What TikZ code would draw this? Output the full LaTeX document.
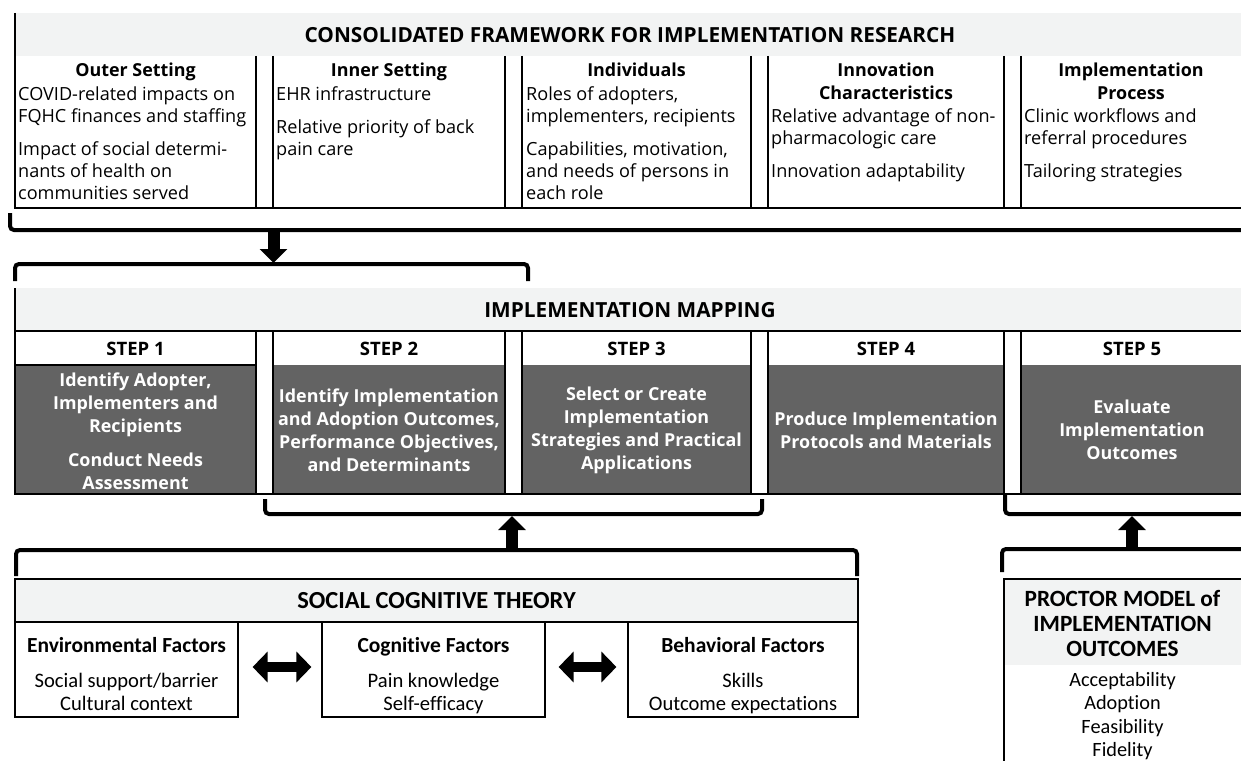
\documentclass[tikz,border=0pt]{standalone}
\usepackage{fontspec}
\setmainfont{Open Sans}
\newfontfamily\calfont[Ligatures=NoCommon]{Carlito}
\usetikzlibrary{arrows.meta}
\definecolor{bandgray}{RGB}{242,243,243}
\definecolor{stepgray}{RGB}{99,99,99}
\begin{document}
\begin{tikzpicture}[x=1pt,y=-1pt,
  frame/.style={line width=1.2pt},
  bracket/.style={line width=4pt, rounded corners=4pt},
  blockarrow/.style={line width=12pt, -{Triangle[width=27pt,length=14pt]}},
  twoway/.style={line width=10pt, {Triangle[width=30pt,length=15pt]}-{Triangle[width=30pt,length=15pt]}},
  bigtitle/.style={font=\fontsize{20.8}{24}\selectfont\bfseries, inner sep=0pt},
  colhead/.style={font=\fontsize{17.9}{22}\selectfont\bfseries, align=flush center, anchor=base, inner sep=0pt},
  colbody/.style={font=\fontsize{18.1}{22}\selectfont, align=flush left, anchor=base west, inner sep=0pt},
  stephead/.style={font=\fontsize{18.5}{22}\selectfont\bfseries, inner sep=0pt},
  steptext/.style={font=\fontsize{17.9}{23}\selectfont\bfseries, text=white, align=center, inner sep=0pt},
  scttitle/.style={font=\calfont\fontsize{24.5}{28}\selectfont\bfseries, inner sep=0pt},
  factorbox/.style={draw, line width=1.2pt, minimum height=95pt, inner sep=0pt},
  factorhead/.style={font=\calfont\fontsize{21.5}{24}\selectfont\bfseries, anchor=base, inner sep=0pt},
  factoritems/.style={font=\calfont\fontsize{20.6}{23}\selectfont, align=flush center, text width=220pt, anchor=base, inner sep=0pt},
  proctitle/.style={font=\calfont\fontsize{23.3}{25}\selectfont\bfseries, align=center, inner sep=0pt},
  procitems/.style={font=\calfont\fontsize{20.3}{23.3}\selectfont, align=flush center, text width=230pt, anchor=base, inner sep=0pt}
]
\useasboundingbox (0,0) rectangle (1241,760);
\clip (0,0) rectangle (1241,760);

% ================= Consolidated Framework =================
\fill[bandgray] (15,13) rectangle (1243,56);
\node[bigtitle] (cfir) at (630,35) {CONSOLIDATED FRAMEWORK FOR IMPLEMENTATION RESEARCH};
\draw[frame] (15,13) -- (15,208) -- (1243,208);
\foreach \x in {256,273,505,522,751,768,1004,1021} \draw[frame] (\x,56) -- (\x,208);

\node[colhead, text width=238pt] (outerH) at (135.5,77) {Outer Setting};
\node[colbody, text width=236pt] (outerB) at (18,100)
  {COVID-related impacts on\\FQHC finances and staffing\\[11pt]Impact of social determi-\\nants of health on\\communities served};

\node[colhead, text width=229pt] (innerH) at (389,77) {Inner Setting};
\node[colbody, text width=227pt] (innerB) at (276,100)
  {EHR infrastructure\\[11pt]Relative priority of back\\pain care};

\node[colhead, text width=226pt] (indivH) at (636.5,77) {Individuals};
\node[colbody, text width=224pt] (indivB) at (526,100)
  {Roles of adopters,\\implementers, recipients\\[11pt]Capabilities, motivation,\\and needs of persons in\\each role};

\node[colhead, text width=233pt] (innovH) at (886,77) {Innovation\\Characteristics};
\node[colbody, text width=231pt] (innovB) at (771,122)
  {Relative advantage of non-\\pharmacologic care\\[11pt]Innovation adaptability};

\node[colhead, text width=218pt] (procH) at (1131,77) {Implementation\\Process};
\node[colbody, text width=216pt] (procB) at (1024,122)
  {Clinic workflows and\\referral procedures\\[11pt]Tailoring strategies};

% bracket under the framework and arrow into the mapping steps
\draw[bracket] (10,213) -- (10,230) -- (1245,230);
\coordinate (cfirOut) at (273.5,230);
\draw[bracket] (15,281) -- (15,264) -- (528,264) -- (528,281);
\coordinate (imIn) at (273.5,263);
\draw[blockarrow] (cfirOut) -- (imIn);

% ================= Implementation Mapping =================
\fill[bandgray] (15,288) rectangle (1243,331);
\node[bigtitle] (imap) at (630,310) {IMPLEMENTATION MAPPING};
\foreach \a/\b in {15/256,273/505,522/751,768/1004,1021/1243}
  \fill[stepgray] (\a,365) rectangle (\b,494);
\draw[frame] (15,288) -- (15,494) -- (1243,494);
\draw[frame] (15,331) -- (1243,331);
\draw[frame] (15,365) -- (256,365);
\foreach \x in {256,273,505,522,751,768,1004,1021} \draw[frame] (\x,331) -- (\x,494);

\node[stephead] (s1h) at (135.5,349) {STEP 1};
\node[stephead] (s2h) at (389,349) {STEP 2};
\node[stephead] (s3h) at (636.5,349) {STEP 3};
\node[stephead] (s4h) at (886,349) {STEP 4};
\node[stephead] (s5h) at (1132,349) {STEP 5};

\node[steptext] (s1) at (135.5,431)
  {Identify Adopter,\\Implementers and\\Recipients\\[11pt]Conduct Needs\\Assessment};
\node[steptext] (s2) at (389,430)
  {Identify Implementation\\and Adoption Outcomes,\\Performance Objectives,\\and Determinants};
\node[steptext] (s3) at (636.5,430)
  {Select or Create\\Implementation\\Strategies and Practical\\Applications};
\node[steptext] (s4) at (886,430)
  {Produce Implementation\\Protocols and Materials};
\node[steptext] (s5) at (1132,430)
  {Evaluate\\Implementation\\Outcomes};

% brackets under steps 2-3 and step 5
\draw[bracket] (265,499) -- (265,514) -- (762,514) -- (762,499);
\coordinate (s23In) at (512,516);
\draw[bracket] (1005,495) -- (1005,514) -- (1245,514);
\coordinate (s5In) at (1132,516);

% ================= Social Cognitive Theory =================
\draw[bracket] (16,576) -- (16,550) -- (857,550) -- (857,576);
\coordinate (sctOut) at (512,550);
\draw[blockarrow] (sctOut) -- (s23In);

\draw[frame, fill=bandgray] (15,579) rectangle (858,622);
\node[scttitle] (sct) at (436.5,601) {SOCIAL COGNITIVE THEORY};

\node[factorbox, minimum width=223pt] (env) at (126.5,669.5) {};
\node[factorbox, minimum width=223pt] (cog) at (433.5,669.5) {};
\node[factorbox, minimum width=230pt] (beh) at (743,669.5) {};

\node[factorhead] (envH) at (126.5,652) {Environmental Factors};
\node[factoritems] (envI) at (126.5,687.5) {Social support/barrier\\Cultural context};
\node[factorhead] (cogH) at (433.5,652) {Cognitive Factors};
\node[factoritems] (cogI) at (433.5,687.5) {Pain knowledge\\Self-efficacy};
\node[factorhead] (behH) at (743,652) {Behavioral Factors};
\node[factoritems] (behI) at (743,687.5) {Skills\\Outcome expectations};

\draw[twoway, shorten <=14pt, shorten >=10pt] ([yshift=2.5pt]env.east) -- ([yshift=2.5pt]cog.west);
\draw[twoway, shorten <=13pt, shorten >=11pt] ([yshift=2.5pt]cog.east) -- ([yshift=2.5pt]beh.west);

% ================= Proctor model =================
\draw[bracket] (1002,572) -- (1002,549) -- (1245,549);
\coordinate (procOut) at (1132,549);
\draw[blockarrow] (procOut) -- (s5In);

\fill[bandgray] (1004,579) rectangle (1243,665);
\draw[frame] (1004,762) -- (1004,579) -- (1243,579);
\node[proctitle] (proc) at (1122.5,623) {PROCTOR MODEL of\\IMPLEMENTATION\\OUTCOMES};
\node[procitems] (procI) at (1122.5,686.5) {Acceptability\\Adoption\\Feasibility\\Fidelity};
\end{tikzpicture}
\end{document}
